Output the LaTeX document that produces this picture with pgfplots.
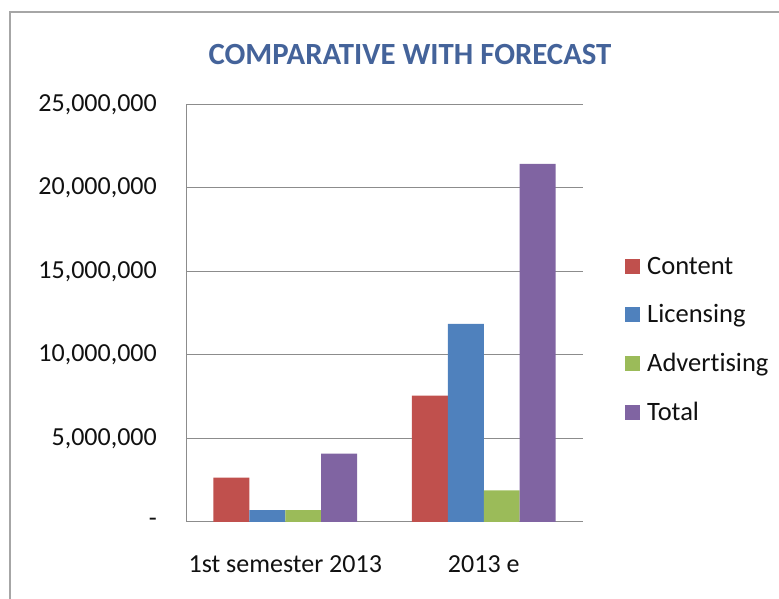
\documentclass[border=0pt]{standalone}
\usepackage{pgfplots}
\pgfplotsset{compat=1.18}
\usepackage{fontspec}
\setmainfont{Carlito}[Ligatures=CommonOff]
\definecolor{cContent}{HTML}{C0504D}
\definecolor{cLic}{HTML}{4F81BD}
\definecolor{cAdv}{HTML}{9BBB59}
\definecolor{cTot}{HTML}{8064A2}
\definecolor{gridc}{HTML}{8C8C8C}
\definecolor{framec}{HTML}{A6A6A6}
\definecolor{titlec}{HTML}{44639A}
\definecolor{txt}{HTML}{111111}
\begin{document}
\begin{tikzpicture}
\path[use as bounding box] (0pt,0pt) rectangle (779pt,599pt);
\draw[framec, line width=1.2pt] (10pt,-5pt) -- (10pt,587pt) -- (790pt,587pt);
\node[anchor=base, font=\fontsize{30.8}{36}\selectfont\bfseries, text=titlec, inner sep=0pt] at (410pt,534pt) {COMPARATIVE WITH FORECAST};
\begin{axis}[
  at={(186pt,77pt)}, anchor=south west,
  scale only axis, width=397pt, height=417.5pt,
  xmin=-0.5, xmax=1.5, ymin=0, ymax=25000000,
  ybar=0pt, bar width=0.181,
  axis x line=bottom, axis y line=left,
  axis line style={draw=gridc, line width=1pt, -},
  ymajorgrids, grid style={draw=gridc, line width=1pt},
  major tick length=0pt,
  xtick={0,1}, xticklabels={1st semester 2013, 2013 e},
  ytick={0,5000000,10000000,15000000,20000000,25000000},
  yticklabels={{-},{5,000,000},{10,000,000},{15,000,000},{20,000,000},{25,000,000}},
  scaled y ticks=false,
  tick label style={font=\fontsize{26}{30}\selectfont, text=txt, inner sep=0pt},
  yticklabel style={anchor=east, xshift=-29pt},
  xticklabel style={anchor=base, yshift=-51pt},
  legend style={at={(1,0.437)}, anchor=west, xshift=42pt, draw=none, fill=none,
    font=\fontsize{26.5}{30}\selectfont, text=txt, row sep=25pt, inner sep=0pt,
    cells={anchor=west}},
  legend cell align=left,
]
\addplot[fill=cContent, draw=none, legend image code/.code={\fill[cContent] (0pt,-7.5pt) rectangle (14.5pt,7.5pt);\path (20pt,0pt);}] coordinates {(0,2660000) (1,7560000)};
\addplot[fill=cLic, draw=none, legend image code/.code={\fill[cLic] (0pt,-7.5pt) rectangle (14.5pt,7.5pt);\path (20pt,0pt);}] coordinates {(0,710000) (1,11860000)};
\addplot[fill=cAdv, draw=none, legend image code/.code={\fill[cAdv] (0pt,-7.5pt) rectangle (14.5pt,7.5pt);\path (20pt,0pt);}] coordinates {(0,710000) (1,1900000)};
\addplot[fill=cTot, draw=none, legend image code/.code={\fill[cTot] (0pt,-7.5pt) rectangle (14.5pt,7.5pt);\path (20pt,0pt);}] coordinates {(0,4090000) (1,21450000)};
\legend{Content, Licensing, Advertising, Total}
\end{axis}
\end{tikzpicture}
\end{document}
